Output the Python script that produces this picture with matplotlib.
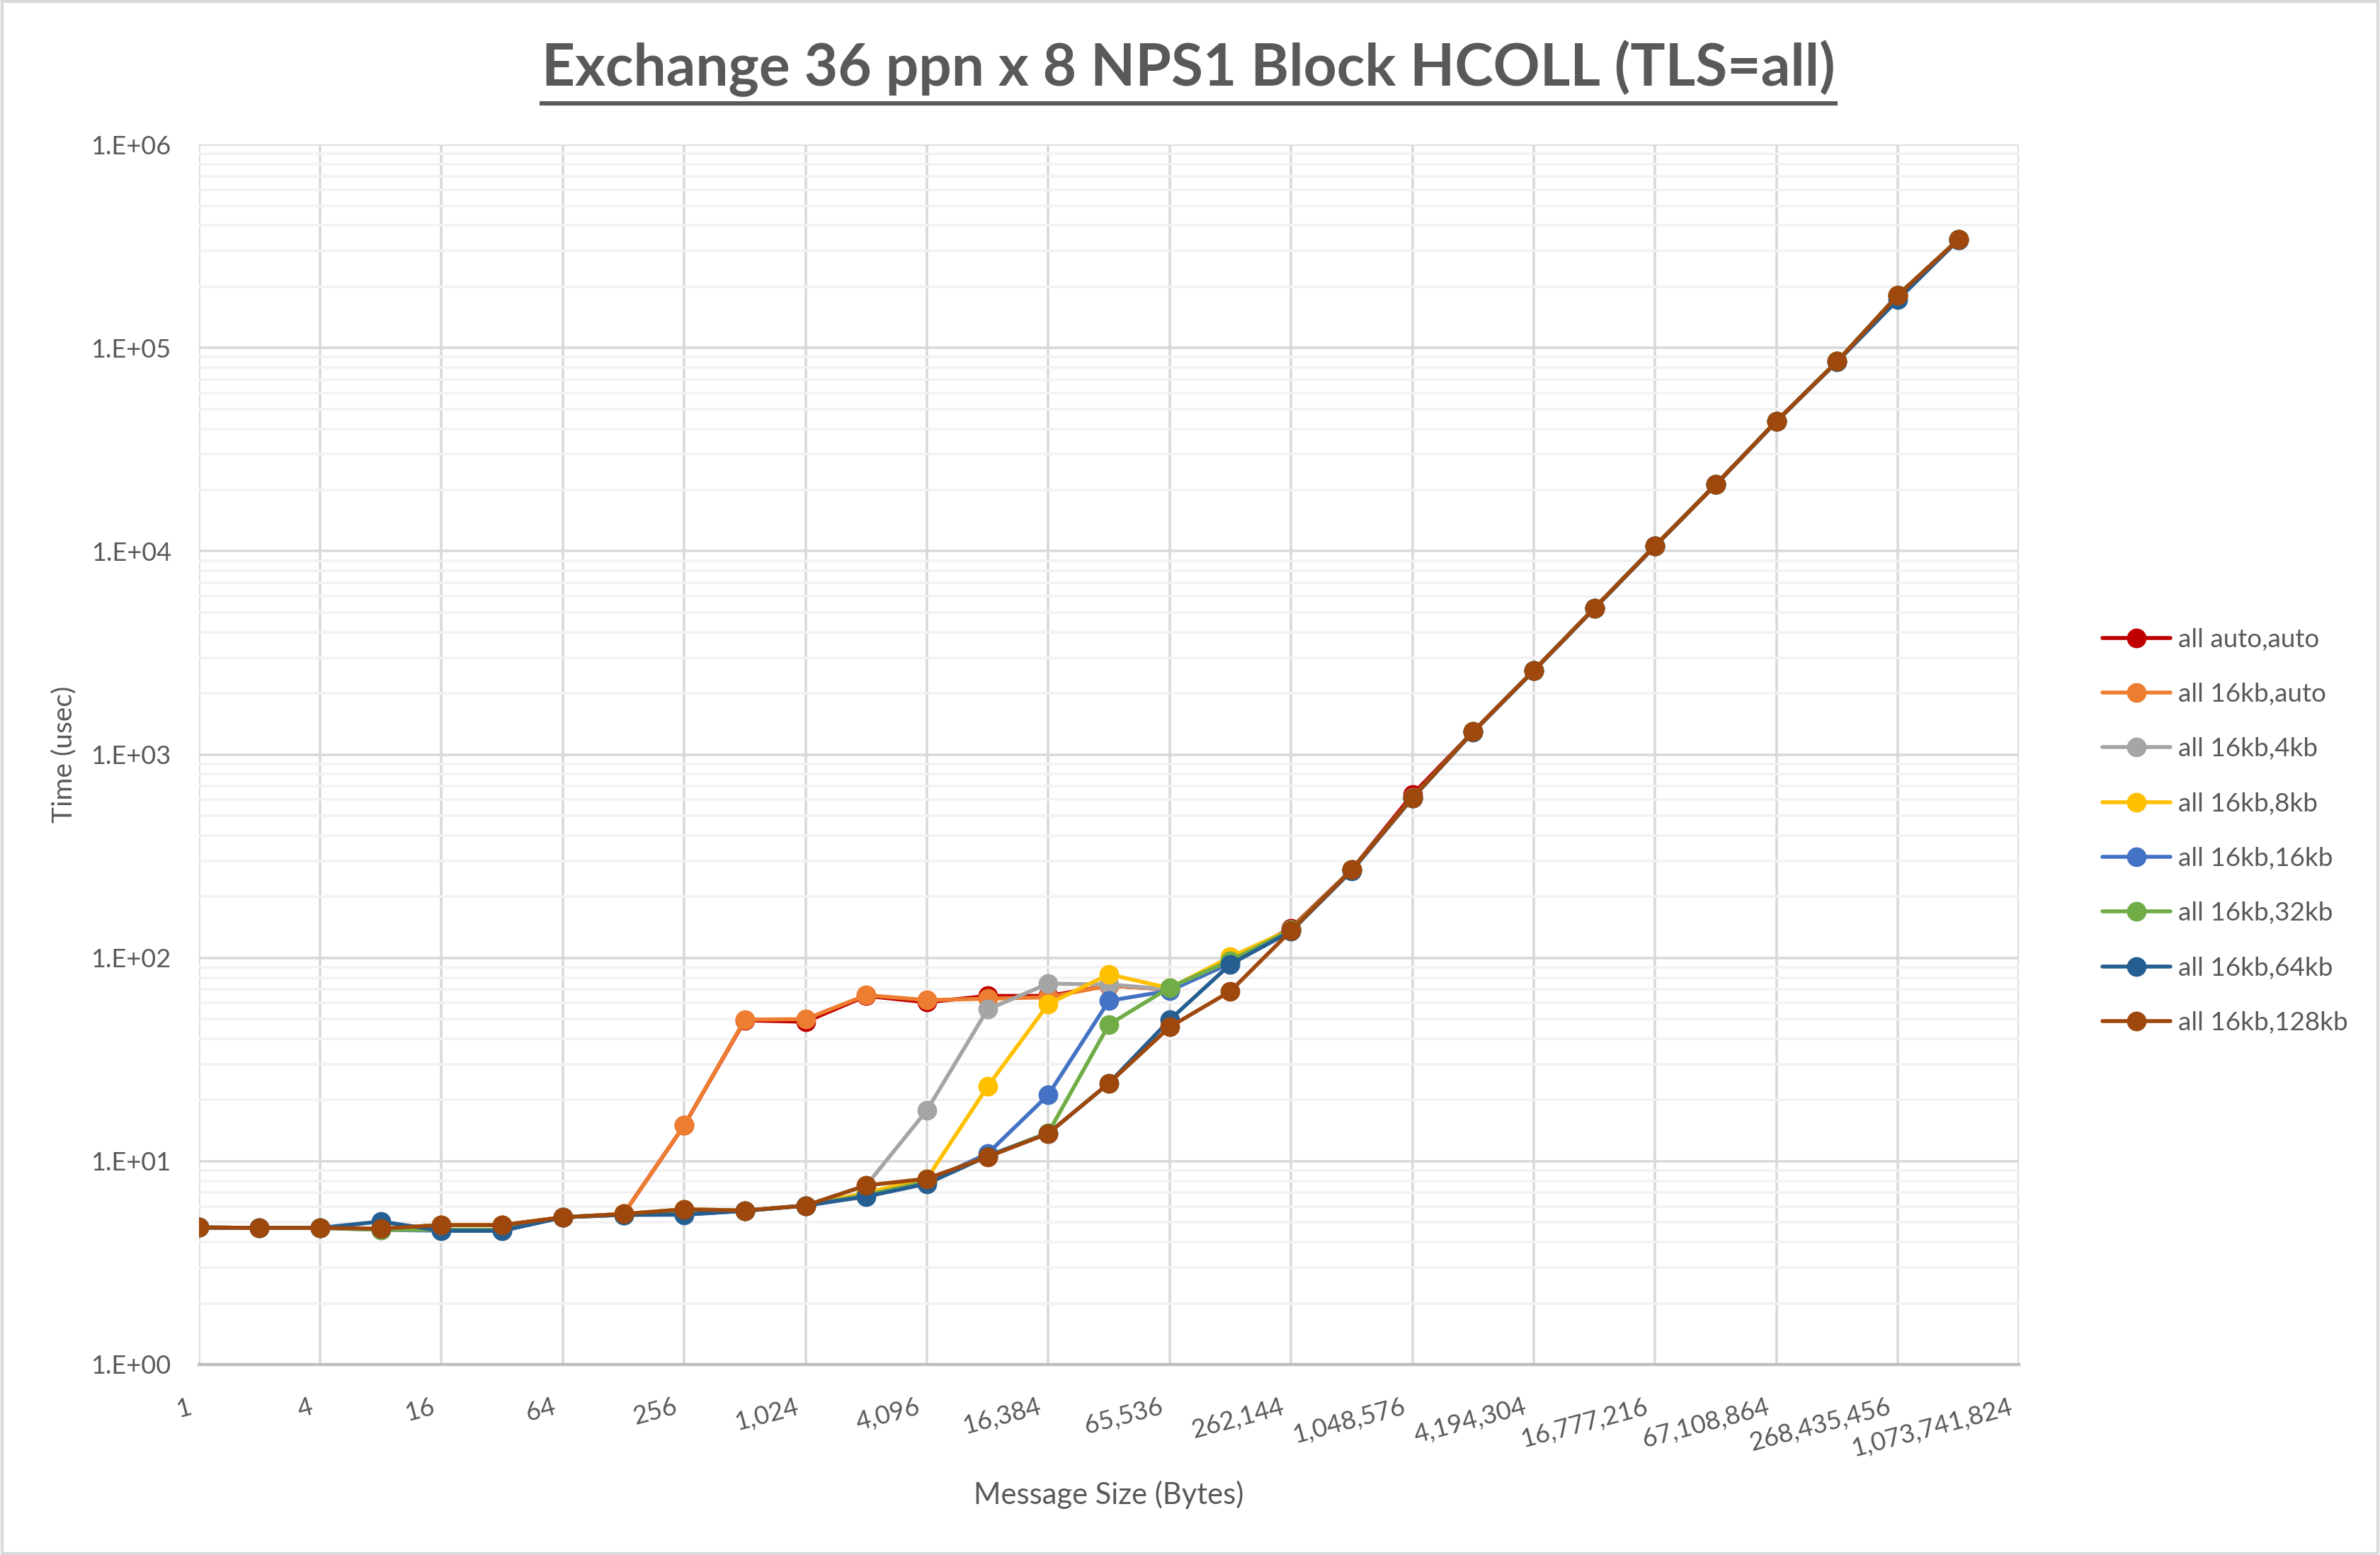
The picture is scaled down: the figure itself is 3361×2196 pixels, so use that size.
import math
import matplotlib
matplotlib.use("Agg")
import matplotlib.pyplot as plt
from matplotlib.ticker import FixedLocator, LogLocator, NullLocator, FuncFormatter
from matplotlib.lines import Line2D
from matplotlib.patches import Rectangle
from matplotlib.transforms import ScaledTranslation

plt.rcParams['font.family'] = ['Lato', 'DejaVu Sans']

# message sizes (bytes)
sizes = [1, 2, 4, 8, 16, 32, 64, 128, 256, 512, 1024, 2048, 4096, 8192, 16384,
         32768, 65536, 131072, 262144, 524288, 1048576, 2097152, 4194304,
         8388608, 16777216, 33554432, 67108864, 134217728, 268435456, 536870912]

tail = [1295, 2590, 5250, 10640, 21300, 43650, 85800, 181500, 341400]

auto_auto = [4.72, 4.70, 4.70, 4.66, 4.85, 4.85, 5.3, 5.5, 15.0, 49.3, 48.5, 65.0, 60.5,
             65.0, 65.0, 73.0, 70.0, 97.0, 140, 272, 635] + tail
k16_auto = [4.72, 4.70, 4.70, 4.66, 4.85, 4.85, 5.3, 5.5, 15.0, 49.7, 50.0, 65.6, 62.0,
            63.0, 64.0, 73.0, 70.0, 97.0, 138, 271, 615] + tail
k16_4kb = [4.72, 4.70, 4.70, 4.66, 4.85, 4.85, 5.3, 5.5, 5.8, 5.72, 6.05, 7.6, 17.8,
           55.8, 74.7, 74.0, 70.0, 96.0, 137, 271, 612] + tail
k16_8kb = [4.72, 4.70, 4.70, 4.66, 4.85, 4.85, 5.3, 5.5, 5.8, 5.72, 6.05, 7.0, 8.2,
           23.3, 59.3, 83.0, 71.0, 101.0, 138, 271, 612] + tail
k16_16kb = [4.72, 4.70, 4.70, 4.6, 4.55, 4.55, 5.3, 5.45, 5.45, 5.7, 6.05, 6.8, 7.9,
            10.9, 21.2, 61.5, 69.0, 94.0, 137, 271, 612] + tail
k16_32kb = [4.72, 4.70, 4.70, 4.6, 4.6, 4.6, 5.3, 5.45, 5.5, 5.7, 6.05, 6.8, 7.9,
            10.6, 13.8, 47.0, 71.5, 97.0, 137, 271, 612] + tail
k16_64kb = [4.72, 4.70, 4.70, 5.05, 4.55, 4.55, 5.3, 5.45, 5.47, 5.7, 6.05, 6.7, 7.75,
            10.6, 13.7, 24.2, 49.5, 93.0, 135, 268, 610,
            1290, 2580, 5230, 10600, 21300, 43500, 85500, 172600, 340000]
k16_128kb = [4.72, 4.70, 4.70, 4.66, 4.85, 4.85, 5.3, 5.5, 5.8, 5.72, 6.05, 7.6, 8.2,
             10.5, 13.7, 24.2, 45.7, 68.5, 136, 271, 612] + tail

labels = ['all auto,auto', 'all 16kb,auto', 'all 16kb,4kb', 'all 16kb,8kb',
          'all 16kb,16kb', 'all 16kb,32kb', 'all 16kb,64kb', 'all 16kb,128kb']
series = [auto_auto, k16_auto, k16_4kb, k16_8kb, k16_16kb, k16_32kb, k16_64kb, k16_128kb]
colors = ['#C00000', '#ED7D31', '#A5A5A5', '#FFC000', '#4472C4', '#70AD47', '#255E91', '#9E480E']

x_ticks = [1, 4, 16, 64, 256, 1024, 4096, 16384, 65536, 262144, 1048576, 4194304,
           16777216, 67108864, 268435456, 1073741824]

txt = '#595959'

fig = plt.figure(figsize=(16.805, 10.98), dpi=200)
ax = fig.add_axes([0.0835, 0.1225, 0.8484 - 0.0835, 0.907 - 0.1225])

for vals, lab, col in zip(series, labels, colors):
    ax.plot(sizes, vals, color=col, lw=2.0, marker='o', markersize=9, label=lab,
            solid_capstyle='round')

ax.set_xscale('log', base=2)
ax.set_yscale('log')
ax.set_xlim(1, 2 ** 30)
ax.set_ylim(1, 1e6)

ax.xaxis.set_major_locator(FixedLocator(x_ticks))
ax.xaxis.set_minor_locator(NullLocator())
ax.xaxis.set_major_formatter(FuncFormatter(lambda v, p: f'{int(round(v)):,}'))
ax.yaxis.set_major_locator(LogLocator(base=10, numticks=10))
ax.yaxis.set_minor_locator(LogLocator(base=10, subs=range(2, 10), numticks=20))
ax.yaxis.set_major_formatter(FuncFormatter(lambda v, p: '1.E+%02d' % round(math.log10(v))))

ax.grid(True, which='major', color='#d9d9d9', lw=1.3)
ax.grid(True, which='minor', axis='y', color='#f2f2f2', lw=1.3)
ax.set_axisbelow(True)
for s in ['top', 'right', 'left']:
    ax.spines[s].set_visible(False)
ax.spines['bottom'].set_color('#bfbfbf')
ax.spines['bottom'].set_linewidth(1.6)

ax.tick_params(axis='both', which='both', length=0, labelsize=13, colors=txt)
ax.tick_params(axis='y', pad=14)
ax.tick_params(axis='x', pad=15.5)
shift = ScaledTranslation(-0.075, 0, fig.dpi_scale_trans)
for t in ax.get_xticklabels():
    t.set_rotation(15)
    t.set_ha('right')
    t.set_va('top')
    t.set_rotation_mode('anchor')
    t.set_transform(t.get_transform() + shift)

ax.set_ylabel('Time (usec)', fontsize=14, color=txt, va='center')
ax.yaxis.set_label_coords(-0.0741, 0.5)
fig.text((0.0835 + 0.8484) / 2, 0.0387, 'Message Size (Bytes)', ha='center', va='center',
         fontsize=15, color=txt)
title = fig.text(0.4994, 0.956, 'Exchange 36 ppn x 8 NPS1 Block HCOLL (TLS=all)', ha='center',
                 va='center', fontsize=29.5, fontweight='bold', color=txt)

fig.legend(loc='center left', bbox_to_anchor=(0.8834, 0.4655), frameon=False, fontsize=13.3,
           labelcolor=txt, handlelength=2.6, handletextpad=0.3, labelspacing=1.2,
           borderpad=0, borderaxespad=0)

# underline for title
fig.canvas.draw()
bb = title.get_window_extent().transformed(fig.transFigure.inverted())
fig.add_artist(Line2D([bb.x0, bb.x1], [bb.y0 - 0.004, bb.y0 - 0.004], color=txt, lw=2.2,
                      transform=fig.transFigure))

fig.add_artist(Rectangle((0.001, 0.001), 0.998, 0.998, transform=fig.transFigure,
                         fill=False, edgecolor='#d9d9d9', lw=1.5))

fig.savefig('out.png', dpi=200)
